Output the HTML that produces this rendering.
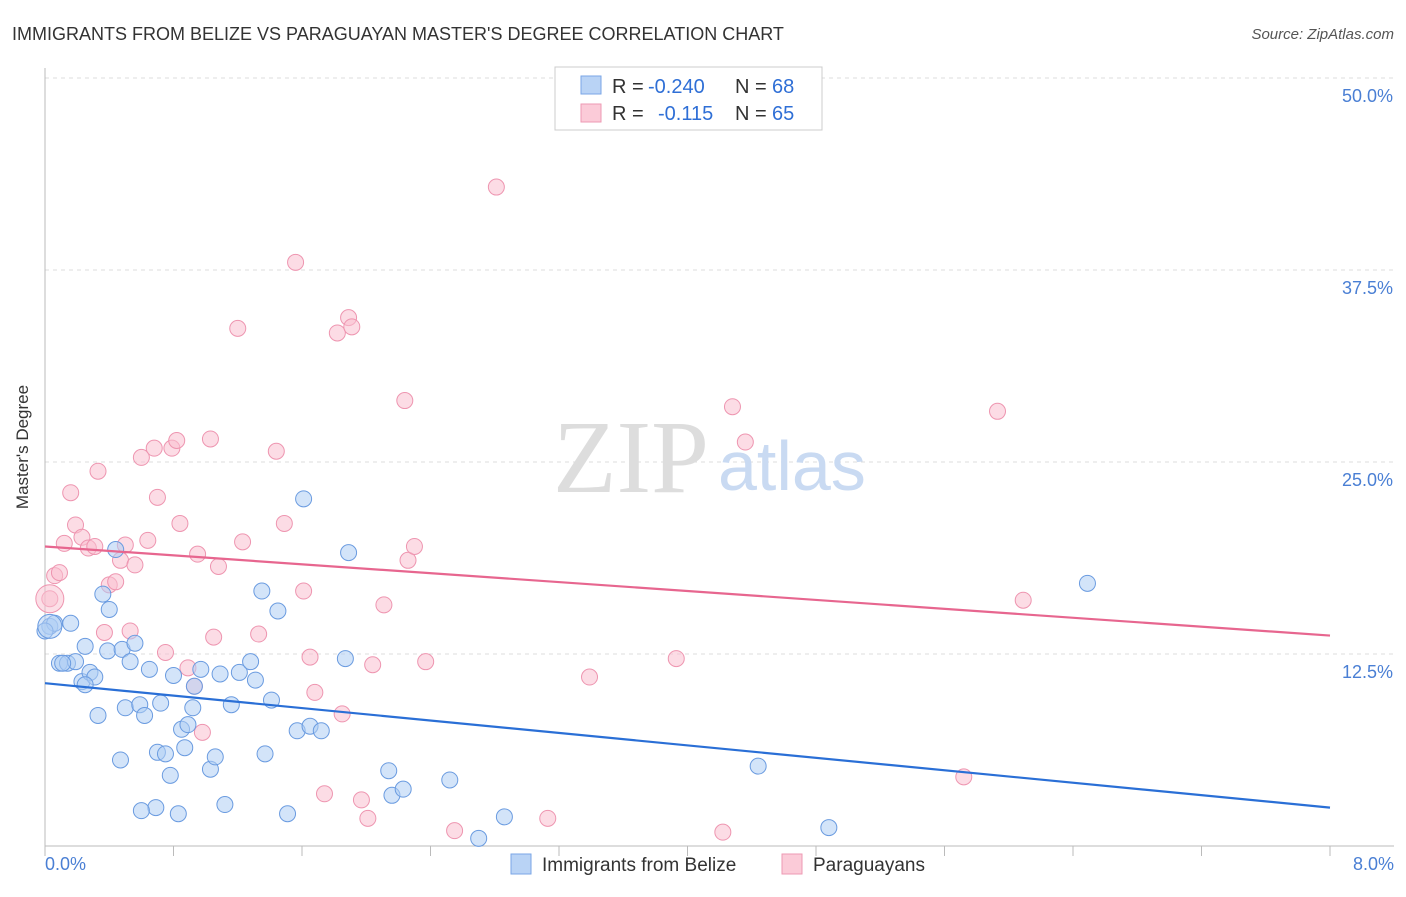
<!DOCTYPE html>
<html><head><meta charset="utf-8"><style>
body{margin:0;background:#fff;font-family:"Liberation Sans",sans-serif;}
</style></head><body>
<svg width="1406" height="892" xmlns="http://www.w3.org/2000/svg" font-family="Liberation Sans, sans-serif">
<text x="12" y="40" font-size="18" fill="#333">IMMIGRANTS FROM BELIZE VS PARAGUAYAN MASTER'S DEGREE CORRELATION CHART</text>
<text x="1394" y="39" font-size="15" fill="#555" font-style="italic" text-anchor="end">Source: ZipAtlas.com</text>
<g id="grid"></g>
<text x="553" y="492" font-size="104" fill="#ddd" font-family="Liberation Serif, serif">ZIP</text>
<text x="718" y="490" font-size="70" fill="#c9daf2">atlas</text>
<g id="marks"></g>
<text x="36" y="455" font-size="17" fill="#333" text-anchor="middle" transform="rotate(-90 28 455)">Master's Degree</text>
<text x="45" y="870" font-size="18" fill="#4a7fd4">0.0%</text>
<text x="1394" y="870" font-size="18" fill="#4a7fd4" text-anchor="end">8.0%</text>
<g>
<rect x="555" y="67" width="267" height="63" fill="#fff" stroke="#ccc"/>
<rect x="581" y="76" width="20" height="18" fill="#b9d3f5" stroke="#7aa6e6"/>
<rect x="581" y="104" width="20" height="18" fill="#fbcbd8" stroke="#ee9ab3"/>
<text x="612" y="93" font-size="20" fill="#333">R =</text>
<text x="648" y="93" font-size="20" fill="#2f6fd6">-0.240</text>
<text x="735" y="93" font-size="20" fill="#333">N =</text>
<text x="772" y="93" font-size="20" fill="#2f6fd6">68</text>
<text x="612" y="120" font-size="20" fill="#333">R =</text>
<text x="658" y="120" font-size="20" fill="#2f6fd6">-0.115</text>
<text x="735" y="120" font-size="20" fill="#333">N =</text>
<text x="772" y="120" font-size="20" fill="#2f6fd6">65</text>
</g>
<g>
<rect x="511" y="854" width="20" height="20" fill="#b9d3f5" stroke="#7aa6e6"/>
<text x="542" y="871" font-size="19" fill="#333">Immigrants from Belize</text>
<rect x="782" y="854" width="20" height="20" fill="#fbcbd8" stroke="#ee9ab3"/>
<text x="813" y="871" font-size="19" fill="#333">Paraguayans</text>
</g>
</svg>
<script>
const yTicks=[12.5,25,37.5,50];
const yTickLabels=["12.5%","25.0%","37.5%","50.0%"];
const xTicks=[0,0.8,1.6,2.4,3.2,4,4.8,5.6,6.4,7.2,8];
const blueX=[0.03,0.06,0.16,0.09,0.14,0.19,0.25,0.23,0.28,0.31,0.33,0.36,0.40,0.39,0.44,0.47,0.48,0.53,0.56,0.50,0.59,0.62,0.65,0.70,0.72,0.75,0.78,0.80,0.83,0.69,0.60,0.85,0.87,0.89,0.92,0.93,0.97,1.03,1.06,1.09,1.12,1.16,1.21,1.28,1.31,1.35,1.37,1.41,1.45,1.51,1.57,1.61,1.65,1.72,1.87,1.89,2.14,2.16,2.23,2.52,2.70,2.86,4.44,4.88,6.49,0.0,0.11,0.25];
const blueY=[14.3,14.5,14.5,11.9,11.9,12.0,13.0,10.7,11.3,11.0,8.5,16.4,15.4,12.7,19.3,5.6,12.8,12.0,13.2,9.0,9.2,8.5,11.5,6.1,9.3,6.0,4.6,11.1,2.1,2.5,2.3,7.6,6.4,7.9,9.0,10.4,11.5,5.0,5.8,11.2,2.7,9.2,11.3,12.0,10.8,16.6,6.0,9.5,15.3,2.1,7.5,22.6,7.8,7.5,12.2,19.1,4.9,3.3,3.7,4.3,0.5,1.9,5.2,1.2,17.1,14.0,11.9,10.5];
const pinkX=[0.03,0.06,0.09,0.12,0.16,0.19,0.23,0.27,0.31,0.33,0.37,0.40,0.44,0.47,0.50,0.53,0.56,0.60,0.64,0.68,0.70,0.79,0.82,0.84,0.75,0.89,0.93,0.95,0.98,1.03,1.05,1.08,1.20,1.23,1.33,1.44,1.49,1.56,1.61,1.65,1.68,1.74,1.82,1.85,1.89,1.91,1.97,2.01,2.04,2.11,2.24,2.26,2.30,2.37,2.55,2.81,3.13,3.39,3.93,4.22,4.28,4.36,5.72,5.93,6.09];
const pinkY=[16.1,17.6,17.8,19.7,23.0,20.9,20.1,19.4,19.5,24.4,13.9,17.0,17.2,18.6,19.6,14.0,18.3,25.3,19.9,25.9,22.7,25.9,26.4,21.0,12.6,11.6,10.4,19.0,7.4,26.5,13.6,18.2,33.7,19.8,13.8,25.7,21.0,38.0,16.6,12.3,10.0,3.4,33.4,8.6,34.4,33.8,3.0,1.8,11.8,15.7,29.0,18.6,19.5,12.0,1.0,42.9,1.8,11.0,12.2,0.9,28.6,26.3,4.5,28.3,16.0];
const blueTrend=[[0,10.6],[8,2.5]];
const pinkTrend=[[0,19.5],[8,13.7]];
const L=45,R=1330,T=78,B=846;
const xs=v=>L+(v/8)*(R-L), ys=v=>B-(v/50)*(B-T);
const NS="http://www.w3.org/2000/svg";
const grid=document.getElementById('grid'),marks=document.getElementById('marks');
function mk(tag,at,parent){const e=document.createElementNS(NS,tag);for(const k in at)e.setAttribute(k,at[k]);parent.appendChild(e);return e;}
yTicks.forEach((t,i)=>{
 const l=mk('line',{x1:L,x2:1394,y1:ys(t),y2:ys(t),stroke:'#ddd','stroke-dasharray':'4,4'},grid);
 
 
 const tx=mk('text',{x:1393,y:ys(t)+24,'font-size':18,fill:'#4a7fd4','text-anchor':'end'},grid);
 tx.textContent=yTickLabels[i];
 
 
});
const ax=mk('line',{x1:L,x2:1394,y1:B,y2:B,stroke:'#bbb'},grid);


const ay=mk('line',{x1:L,x2:L,y1:68,y2:B,stroke:'#bbb'},grid);


xTicks.forEach(t=>{
 const l=mk('line',{x1:xs(t),x2:xs(t),y1:B,y2:B+10,stroke:'#bbb'},grid);
 
 
});
function pts(X,Y,fill,stroke,name){
 X.forEach((x,i)=>{
  const c=mk('circle',{cx:xs(x),cy:ys(Y[i]),r:8,fill:fill,'fill-opacity':0.55,stroke:stroke,'stroke-width':1},marks);
  
  
 });
}
pts(pinkX,pinkY,'#f9bfd0','#ee95b0','paraguayan-point');
pts(blueX,blueY,'#afcdf4','#6a9be0','belize-point');
const big1=mk('circle',{cx:xs(0.03),cy:ys(16.1),r:14,fill:'#f9bfd0','fill-opacity':0.5,stroke:'#ee95b0'},marks);


const big2=mk('circle',{cx:xs(0.03),cy:ys(14.3),r:12,fill:'#afcdf4','fill-opacity':0.5,stroke:'#6a9be0'},marks);


const bt=mk('line',{x1:xs(blueTrend[0][0]),y1:ys(blueTrend[0][1]),x2:xs(blueTrend[1][0]),y2:ys(blueTrend[1][1]),stroke:'#2a6fd6','stroke-width':2.2},marks);


const pt=mk('line',{x1:xs(pinkTrend[0][0]),y1:ys(pinkTrend[0][1]),x2:xs(pinkTrend[1][0]),y2:ys(pinkTrend[1][1]),stroke:'#e7668f','stroke-width':2.2},marks);


</script>
</body></html>
